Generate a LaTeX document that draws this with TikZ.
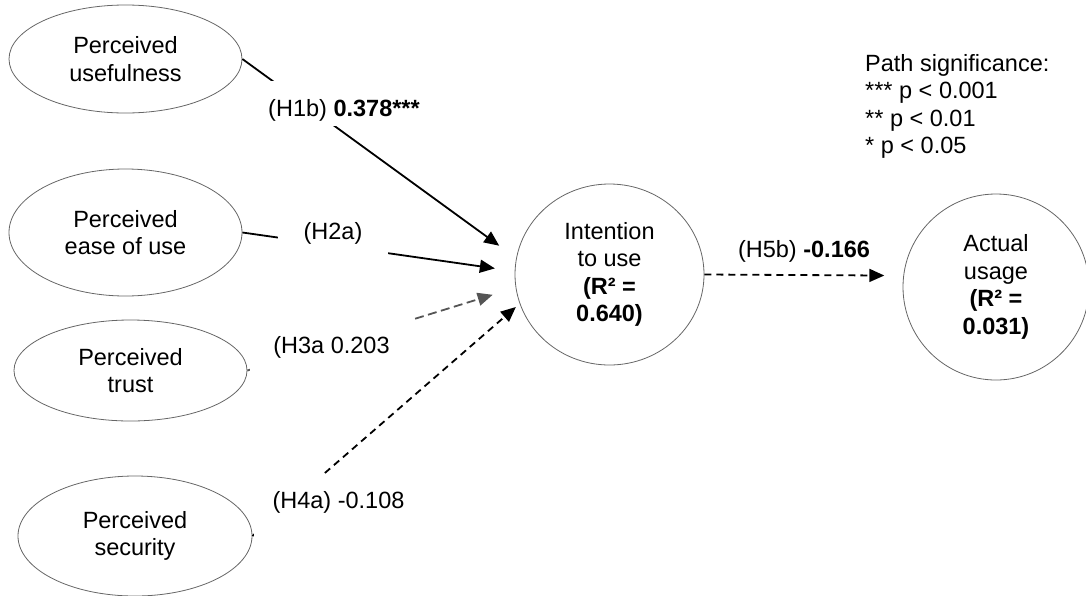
\documentclass[tikz,border=0pt]{standalone}
\definecolor{rim}{HTML}{666666}
\definecolor{dg}{HTML}{555555}
\usepackage{fontspec}
\setmainfont{Liberation Sans}
\usepackage{tikz}
\usetikzlibrary{arrows.meta}
\usetikzlibrary{shapes.geometric}

\begin{document}
\begin{tikzpicture}[x=1pt, y=-1pt,
	every node/.style={font=\fontsize{23.5}{27.5}\selectfont},
	construct/.style={ellipse, draw=rim, line width=0.8pt, inner sep=0pt, align=center},
	link/.style={line width=1.8pt, -{Triangle[length=15pt,width=13pt]}},
	dashlink/.style={link, dash pattern=on 7pt off 5pt},
	hyp/.style={fill=white, inner ysep=0pt, inner xsep=4pt, anchor=base}]
	\useasboundingbox (0,0) rectangle (1086,595);
	% constructs
	\node[construct, minimum width=233pt, minimum height=108pt] (usef) at (125.5,59) {Perceived\\usefulness};
	\node[construct, minimum width=233pt, minimum height=127pt] (ease) at (125.5,232.5) {Perceived\\ease of use};
	\node[construct, minimum width=233pt, minimum height=101pt] (trust) at (130.5,370.5) {Perceived\\trust};
	\node[construct, minimum width=234pt, minimum height=120pt] (secur) at (135,536) {Perceived\\security};
	\node[construct, minimum width=189pt, minimum height=181pt] (intent) at (609.5,274.5) {Intention\\to use\\\textbf{(R² =}\\\textbf{0.640)}};
	\node[construct, minimum width=186pt, minimum height=186pt] (usage) at (996,287) {Actual\\usage\\\textbf{(R² =}\\\textbf{0.031)}};
	% paths
	\draw[link, shorten >=21pt] (usef.east) -- (intent.170);
	\draw[link, shorten >=20pt] (ease.east) -- (intent.178);
	\draw[link, dg, dash pattern=on 9pt off 4.5pt, shorten >=24pt] (trust.east) -- (intent.188);
	\draw[dashlink, shorten >=5pt] (secur.east) -- (intent.198);
	\draw[dashlink, shorten >=19pt] (intent.east) -- (usage.173);
	% coefficients
	\node[hyp, text height=35pt, text depth=10pt] (h1b) at (344,116) {(H1b) \textbf{0.378***}};
	\node[hyp, text height=20pt, text depth=17pt, minimum width=110pt] (h2a) at (333,239.3) {(H2a)};
	\node[hyp, text height=37pt, text depth=18pt, minimum width=163pt] (h3a) at (331.5,353.3) {(H3a 0.203};
	\node[hyp, text height=33pt, text depth=28pt, minimum width=169pt] (h4a) at (338.5,508.3) {(H4a) -0.108};
	\node[hyp] (h5b) at (804,257) {(H5b) \textbf{-0.166}};
	%legend
	\node[anchor=north west, inner sep=0pt, align=left] (signif) at (865,54) {Path significance:\\{}*** p < 0.001\\{}** p < 0.01\\{}* p < 0.05};
\end{tikzpicture}
\end{document}
